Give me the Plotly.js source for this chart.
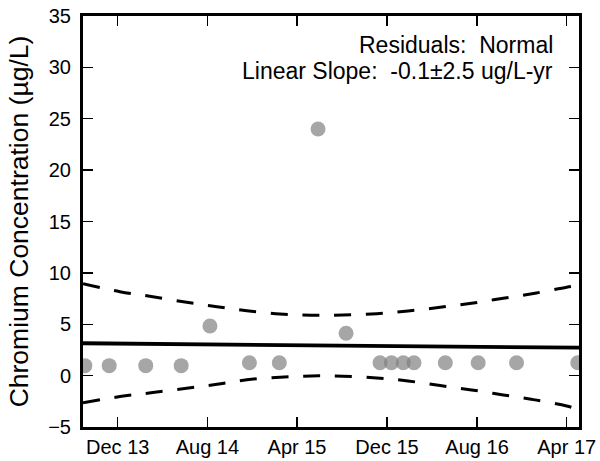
<!DOCTYPE html>
<html>
<head>
<meta charset="utf-8">
<script src="https://cdn.plot.ly/plotly-3.0.1.min.js"></script>
<style>html,body{margin:0;padding:0;background:#fff;}#chart{width:600px;height:461px;}</style>
</head>
<body>
<div id="chart"></div>
<script>
// Sample dates and concentrations (ug/L)
const sampleDates = ["2013-09-03","2013-11-08","2014-02-15","2014-05-22","2014-08-08","2014-11-23","2015-02-12","2015-05-28","2015-08-12","2015-11-12","2015-12-13","2016-01-14","2016-02-12","2016-05-07","2016-08-04","2016-11-16","2017-05-01"];
const sampleValues = [0.97,0.97,0.97,0.97,4.83,1.26,1.26,24.0,4.12,1.26,1.26,1.26,1.26,1.26,1.26,1.26,1.26];

// Linear trend line (end points at axis limits)
const trendDates = ["2013-08-28T23:00","2017-05-04T07:00"];
const trendValues = [3.15,2.72];

// Confidence band (read at sampled dates)
const bandDates = ["2013-08-28T23:00","2013-12-07","2014-03-06","2014-06-06","2014-08-27","2014-11-16","2015-02-14","2015-05-10","2015-08-04","2015-11-03","2016-01-27","2016-04-23","2016-07-17","2016-10-11","2017-01-05","2017-04-01","2017-05-04T07:00"];
const bandUpper = [8.95,8.17,7.68,7.14,6.71,6.32,6.0,5.87,5.9,6.03,6.29,6.65,7.04,7.53,8.02,8.6,8.78];
const bandLower = [-2.63,-2.04,-1.65,-1.23,-0.84,-0.40,-0.16,-0.03,-0.06,-0.22,-0.52,-0.97,-1.39,-1.88,-2.36,-2.95,-3.32];

const xRange = ["2013-08-28T23:00","2017-05-04T07:00"];
const yRange = [-5, 35];
const annotationLines = ["Residuals:  Normal","Linear Slope:  -0.1\u00b12.5 ug/L-yr"];
const yTitle = "Chromium Concentration (\u00b5g/L)";

const FONT = "Liberation Sans, Arial, Helvetica, sans-serif";

const traces = [
  {x: sampleDates, y: sampleValues, type: "scatter", mode: "markers",
   marker: {size: 15, color: "#808080", opacity: 0.7, line: {width: 0}}, hoverinfo: "skip"},
  {x: trendDates, y: trendValues, type: "scatter", mode: "lines",
   line: {color: "#000", width: 3.8}, hoverinfo: "skip"},
  {x: bandDates, y: bandUpper, type: "scatter", mode: "lines",
   line: {color: "#000", width: 3, dash: "17px,14.7px", shape: "spline"}, hoverinfo: "skip"},
  {x: bandDates, y: bandLower, type: "scatter", mode: "lines",
   line: {color: "#000", width: 3, dash: "17px,14.7px", shape: "spline"}, hoverinfo: "skip"}
];

const axisCommon = {
  showgrid: false, zeroline: false, showline: true, mirror: "ticks",
  linecolor: "#000", linewidth: 3, ticks: "inside", ticklen: 10, tickwidth: 1.3,
  tickcolor: "#000", tickfont: {family: FONT, size: 20, color: "#000"}
};

const layout = {
  width: 600, height: 461,
  margin: {l: 83, r: 21, t: 16, b: 34, pad: 0},
  paper_bgcolor: "#fff", plot_bgcolor: "#fff",
  showlegend: false,
  xaxis: Object.assign({}, axisCommon, {
    type: "date", range: xRange, tick0: "2013-12-01", dtick: "M8", tickformat: "%b %y"
  }),
  yaxis: Object.assign({}, axisCommon, {
    range: yRange, tick0: 0, dtick: 5, ticklabelstandoff: 5,
    title: {text: yTitle, font: {family: FONT, size: 26.5, color: "#000"}, standoff: 12}
  }),
  annotations: annotationLines.map((t, i) => ({
    text: t, xref: "paper", yref: "paper", x: 0.951, y: [0.9294, 0.866][i],
    xanchor: "right", yanchor: "middle", showarrow: false,
    font: {family: FONT, size: 23, color: "#000"}
  }))
};

Plotly.newPlot("chart", traces, layout, {displayModeBar: false, staticPlot: true});
</script>
</body>
</html>
